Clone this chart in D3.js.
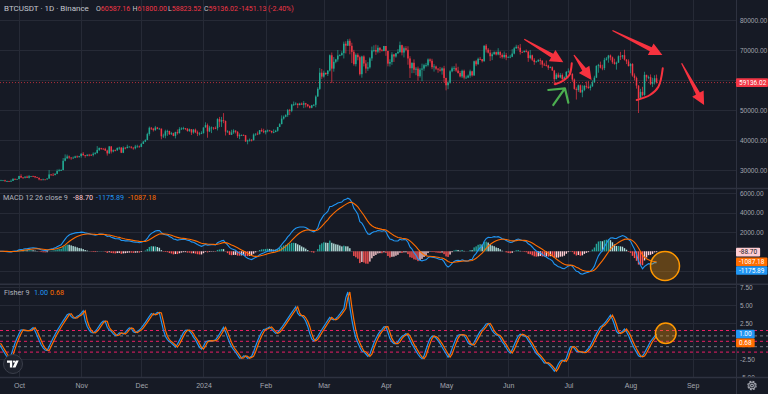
<!DOCTYPE html>
<html>
<head>
<meta charset="utf-8">
<script src="https://cdn.jsdelivr.net/npm/d3@7"></script>
<style>
  html, body { margin: 0; padding: 0; background: #161a25; }
  svg { display: block; font-family: Roboto, "Liberation Sans", sans-serif; }
</style>
</head>
<body>
<div id="chart"></div>
<script>
// ---- data: BTCUSDT daily candles, 2023-09-21 .. 2024-08-14 (open = previous close) ----
const firstDay = "2023-09-21";
const firstOpen = 27130;

const closes = [
  26570,26580,26580,26250,26300,26220,26370,27020,26910,26970, // Sep
  27990,27500,27430,27790,27410,27930,27960,27920,27590,27390,26870,26760,26860,26850,27150,28520,28410,28330,28720,29670,29920,30000,33070,33900,34500,34160,33910,34090,34530,34490,34650, // Oct
  35420,34940,34730,35080,35050,35040,35420,35630,36700,37320,37130,37070,36490,35540,37870,36160,36600,36570,37360,37450,35750,37410,37290,37720,37790,37450,37240,37820,37850,37710, // Nov
  38690,39460,39970,41980,44080,43770,43290,44170,43720,43790,41240,41450,42890,43020,41940,42260,41370,42660,42270,43660,43860,43990,43740,43010,43580,42510,43440,42580,42070,42140,42280, // Dec
  44180,44950,42850,44150,44160,43970,43930,46970,46110,46630,46340,42780,42840,41730,42510,43150,42740,41260,41620,41660,41570,39510,39850,40070,39930,41820,42120,42030,43300,42940,42580, // Jan
  43080,43190,43000,42580,42660,43090,44340,45290,47130,47750,48290,49960,49700,51800,51910,52130,51650,52140,51780,52260,51850,51300,50740,51570,51730,54480,57040,62430,61130, // Feb
  62390,61990,63130,68250,63790,66070,66850,68170,68310,68960,72080,71450,73070,71390,69400,65300,68390,67600,61940,67840,65500,63800,64220,67210,69880,69990,69450,70740,69890,69650,71330, // Mar
  69700,65460,65980,68510,67840,68900,69360,71620,69150,70590,70060,67190,63920,65740,63420,63790,61280,63470,63820,64940,64940,66840,66410,64280,64500,63770,63460,63120,63870,60670, // Apr
  58250,59120,62890,63890,64030,63160,62330,61190,63070,60790,60800,61450,62900,61550,66250,65230,67050,66940,66280,71450,70140,69120,67930,68550,69290,68510,69390,68370,67630,68350,67490, // May
  67710,67750,68800,70570,71080,70760,69340,69310,69650,69510,67320,68240,66760,66010,66190,66640,66490,65150,64960,64830,64100,64260,63160,60280,61800,60860,61670,60320,60890,62680, // Jun
  62850,62030,60150,57040,56640,58230,55850,56700,58040,57720,57340,57890,59200,60790,64720,65040,64090,63970,66710,67150,68160,67540,65930,65370,65780,67900,67810,68260,66780,66190,64620, // Jul
  65350,61500,60680,58120,54020,56040,55030,61710,60880,60940,58710,59350,60587.16,59136.02 // Aug
];

const highs = [
  27150,26740,26640,26740,26430,26390,26820,27300,27230,27090,
  28060,28580,27670,27830,28120,28290,28000,28110,27990,27740,27480,26940,27100,26990,27290,30000,28620,28980,28920,30200,30380,30230,34000,35200,35130,34820,34240,34480,34770,34850,34720,
  35580,35980,34940,35260,35380,35290,35890,35980,37970,37530,37410,37230,37420,36770,37980,37930,36850,36850,37500,37750,37650,37880,37650,38420,37890,37840,37560,38380,38430,38150,
  38950,39680,40250,42420,44490,44300,44050,44700,44360,44050,43800,42100,43430,43420,43090,42700,42430,42770,43500,44280,44240,44400,44020,43950,43800,43600,43680,43800,43120,42600,42900,
  44200,45900,45500,44730,44500,44230,44500,47250,47700,47700,48970,46500,43260,43080,43400,43580,43200,42930,42200,41870,41880,41670,40130,40500,40280,42200,42200,42840,43300,43880,43750,
  43290,43490,43380,43120,43540,43400,44380,45600,48200,48170,48590,50340,50370,52040,52820,52570,52180,52400,52490,52980,52370,52000,51550,51700,51960,54900,57580,64000,63680,
  63110,62430,63230,68500,69170,67650,67050,69990,68580,69600,72800,72920,73650,73780,72420,70050,68880,68920,68100,68100,68240,66650,65970,67620,71150,71560,71770,71550,70920,70330,71370,
  71340,69700,66900,69290,68720,69000,70330,72800,71760,71170,71280,71230,67930,65830,66870,64360,64480,64000,65450,65400,65700,67200,67200,67070,65300,64800,63950,64360,64230,64730,
  60780,59600,63300,64500,64650,65500,64420,62990,63450,63470,61500,61820,63450,63100,66450,66700,67450,67700,67000,71510,71980,70670,70080,69220,69560,69510,70600,69560,68900,69500,69050,
  67860,68410,70290,71060,71760,71650,71990,69570,69860,70180,69560,69990,68450,67300,66400,66960,67250,66500,65730,66480,65070,64530,64520,63370,62360,62480,62290,62200,61200,63000,
  63860,63300,62280,60500,57550,58480,58480,58240,58300,59470,59650,58500,59850,61420,64900,65390,66130,65100,67400,67640,68370,68480,67800,67100,66150,68200,69400,68320,70080,66970,66860,
  65600,65590,62200,61120,58300,57050,57730,62750,61760,61470,61860,60730,61580,61800
];

const lows = [
  26380,26480,26500,26130,25990,26090,26110,26340,26670,26890,
  26940,27330,27160,27220,27350,27180,27840,27700,27260,27300,26560,26560,26700,26810,26800,27110,28110,28180,28180,28600,29470,29700,29880,32880,33700,33740,33390,33870,33940,34050,34080,
  34100,34750,34100,34580,34530,34740,34530,35120,35540,36320,36720,36750,36340,34800,35360,35500,35880,36200,36380,36720,35630,35620,36870,37250,37600,37150,36750,36870,37500,37500,
  37620,38650,39280,39970,41420,43340,42820,43080,43580,43560,40220,40680,40560,41400,41660,41680,41250,40530,41800,42180,43330,43420,43300,42760,42720,41680,42100,42300,41300,41520,41960,
  42180,44150,40750,42630,42300,43400,43600,43180,44300,44350,45600,41500,42430,41720,41700,42050,42200,40680,40280,41450,41500,39430,38560,39490,39500,39820,41390,41620,41800,42680,42270,
  41880,42570,42880,42220,42260,42580,42790,44330,45240,46800,47560,47700,48300,49270,51320,51610,50630,51540,51700,50620,50860,50910,50520,50580,51280,50900,54450,56690,60360,
  60780,61660,61320,62810,59000,62780,65580,66100,67900,68050,67180,68850,71330,68560,65630,64780,64530,66560,61500,60770,64530,62260,63040,63800,66390,69280,68380,68900,69080,69530,69580,
  68060,64550,64490,65060,66010,67440,68700,69040,68200,67520,69570,65090,60660,62260,62300,61600,59770,60800,59600,63080,64240,64500,65800,63600,62800,63300,62400,62800,61790,59190,
  56550,56940,58800,62580,62960,62700,62130,60880,60650,60190,60450,60620,60760,61150,61330,64600,65120,66650,65830,66060,69160,68830,66300,66630,68520,68180,68230,67280,67130,67130,66600,
  67390,67260,67610,68550,70380,70120,68500,69220,69130,69200,66050,66900,66300,65060,65870,66020,65080,64060,64680,64500,63380,63940,63080,58400,60240,60710,60580,60000,60300,60700,
  62500,61750,59400,56770,53480,56020,55790,54260,56300,57160,57050,56520,57730,59200,60640,62430,63850,63240,63300,66470,65770,66550,65400,65100,63450,65750,66650,67070,66500,65300,64530,
  62250,61100,59850,57120,49000,53940,54560,54730,59570,60260,58290,57640,58500,58823.52
];

// values printed in the legends / last-value boxes
const symbolTitle = "BTCUSDT · 1D · Binance";
const ohlcLetters = ["O", "H", "L", "C"];
const ohlcValues = ["60587.16", "61800.00", "58823.52", "59136.02"];
const changeText = "-1451.13 (-2.40%)";
const macdTitle = "MACD 12 26 close 9";
const macdLast = [-88.70, -1175.89, -1087.18];   // histogram, MACD, signal
const fisherTitle = "Fisher 9";
const fisherLast = [1.00, 0.68];                 // fisher, trigger

const priceTicks = [30000, 40000, 50000, 60000, 70000, 80000];
const macdTicks = [-2000, 0, 2000, 4000, 6000];
const fisherTicks = [-5, -2.5, 0, 2.5, 5, 7.5];
const fisherLevels = [1.5, 0.75, 0, -0.75, -1.5];

// drawings on the chart, as [time, value]
const redArrows = [
  [["2024-06-09T00:00:00Z", 73570], ["2024-06-28T12:00:00Z", 65900]],
  [["2024-07-03T19:00:00Z", 68330], ["2024-07-12T14:00:00Z", 60000]],
  [["2024-07-23T00:00:00Z", 76500], ["2024-08-16T22:00:00Z", 68330]],
  [["2024-08-26T12:00:00Z", 65570], ["2024-09-06T17:00:00Z", 51670]]
];
const redArcs = [
  [["2024-06-24T08:00:00Z", 58570], ["2024-06-28T12:00:00Z", 59770], ["2024-07-01T12:00:00Z", 61670], ["2024-07-02T17:00:00Z", 65570]],
  [["2024-08-04T02:00:00Z", 53330], ["2024-08-10T17:00:00Z", 55000], ["2024-08-14T22:00:00Z", 57770], ["2024-08-17T02:00:00Z", 63900]]
];
const greenArrow = {
  tail: ["2024-06-23T12:00:00Z", 51670],
  tip: ["2024-06-29T07:00:00Z", 57230],
  wings: [["2024-06-21T00:00:00Z", 56670], ["2024-07-01T00:00:00Z", 52430]]
};
const macdCircle = ["2024-08-18T05:00:00Z", -1523];
const fisherCircle = ["2024-08-18T14:00:00Z", 1.11];

// ---- layout ----
const W = 768, H = 394, plotW = 736;
const pane = {
  main: [0, 188],
  macd: [189, 284],
  fisher: [285, 377]
};
const bg = "#161a25", gridCol = "#262a36", textCol = "#a3a6af";
const upCol = "#22ab94", downCol = "#f23645";
const blue = "#2196f3", orange = "#ff6d00";

const svg = d3.select("#chart").append("svg")
  .attr("width", W).attr("height", H);
svg.append("rect").attr("width", W).attr("height", H).attr("fill", bg);

const defs = svg.append("defs");
Object.entries(pane).forEach(([k, [y0, y1]]) => {
  defs.append("clipPath").attr("id", "clip-" + k)
    .append("rect").attr("x", 0).attr("y", y0).attr("width", plotW).attr("height", y1 - y0);
});

const x = d3.scaleUtc()
  .domain([new Date(Date.UTC(2023, 8, 21, 12)), new Date(Date.UTC(2024, 8, 22, 15))])
  .range([0, plotW]);
const yPrice = d3.scaleLinear().domain([30000, 80000]).range([170, 20]);
const yMacd = d3.scaleLinear().domain([-2000, 6000]).range([270.6, 193.4]);
const yFish = d3.scaleLinear().domain([-5, 7.5]).range([377.3, 287.3]);

const start = d3.utcParse("%Y-%m-%d")(firstDay);
const candles = closes.map((c, i) => ({
  date: d3.utcDay.offset(start, i),
  open: i === 0 ? firstOpen : closes[i - 1],
  high: highs[i],
  low: lows[i],
  close: c
}));
if (highs.length !== closes.length || lows.length !== closes.length) {
  console.warn("length mismatch", closes.length, highs.length, lows.length);
}

// ---- indicators from the candles ----
function ema(values, len) {
  const k = 2 / (len + 1);
  let prev;
  return values.map((v, i) => (prev = i === 0 ? v : v * k + prev * (1 - k)));
}
const emaFast = ema(closes, 12), emaSlow = ema(closes, 26);
const macdLine = emaFast.map((f, i) => f - emaSlow[i]);
const signalLine = ema(macdLine, 9);
const histLine = macdLine.map((m, i) => m - signalLine[i]);

function fisherTransform(len) {
  const hl2 = candles.map(d => (d.high + d.low) / 2);
  let value = 0, fish = 0;
  return hl2.map((v, i) => {
    const win = hl2.slice(Math.max(0, i - len + 1), i + 1);
    const hi = d3.max(win), lo = d3.min(win);
    value = 0.66 * ((v - lo) / Math.max(hi - lo, 0.001) - 0.5) + 0.67 * value;
    value = value > 0.99 ? 0.999 : value < -0.99 ? -0.999 : value;
    fish = 0.5 * Math.log((1 + value) / Math.max(1 - value, 0.001)) + 0.5 * fish;
    return fish;
  });
}
const fisher = fisherTransform(9);
const trigger = fisher.map((f, i) => (i === 0 ? f : fisher[i - 1]));

// ---- grid ----
const grid = svg.append("g").attr("stroke", gridCol).attr("stroke-width", 1);
const months = x.ticks(d3.utcMonth.every(1));
grid.selectAll(".vgrid").data(months).join("line")
  .attr("x1", d => Math.round(x(d)) + 0.5).attr("x2", d => Math.round(x(d)) + 0.5)
  .attr("y1", 0).attr("y2", pane.fisher[1]);
grid.selectAll(".pgrid").data(priceTicks).join("line")
  .attr("x1", 0).attr("x2", plotW)
  .attr("y1", d => Math.round(yPrice(d)) + 0.5).attr("y2", d => Math.round(yPrice(d)) + 0.5);
grid.selectAll(".mgrid").data(macdTicks).join("line")
  .attr("x1", 0).attr("x2", plotW)
  .attr("y1", d => Math.round(yMacd(d)) + 0.5).attr("y2", d => Math.round(yMacd(d)) + 0.5);
grid.selectAll(".fgrid").data(fisherTicks.filter(d => d !== 0)).join("line")
  .attr("x1", 0).attr("x2", plotW)
  .attr("y1", d => Math.round(yFish(d)) + 0.5).attr("y2", d => Math.round(yFish(d)) + 0.5);

// pane separators
svg.append("g").attr("stroke", "#2e3240").attr("stroke-width", 1.5)
  .selectAll("line").data([pane.main[1] + 0.5, pane.macd[1] + 0.3]).join("line")
  .attr("x1", 0).attr("x2", W).attr("y1", d => d).attr("y2", d => d);

// ---- main pane ----
const main = svg.append("g").attr("clip-path", "url(#clip-main)");
const last = candles[candles.length - 1];
main.append("line")
  .attr("x1", 0).attr("x2", plotW)
  .attr("y1", yPrice(last.close)).attr("y2", yPrice(last.close))
  .attr("stroke", downCol).attr("stroke-opacity", 0.7)
  .attr("stroke-dasharray", "1,2");

const candleG = main.append("g");
candleG.selectAll(".wick").data(candles).join("line")
  .attr("x1", d => x(d.date)).attr("x2", d => x(d.date))
  .attr("y1", d => yPrice(d.high)).attr("y2", d => yPrice(d.low))
  .attr("stroke", d => d.close >= d.open ? upCol : downCol)
  .attr("stroke-width", 0.7);
candleG.selectAll(".body").data(candles).join("rect")
  .attr("x", d => x(d.date) - 0.75)
  .attr("width", 1.5)
  .attr("y", d => yPrice(Math.max(d.open, d.close)))
  .attr("height", d => Math.max(0.8, Math.abs(yPrice(d.open) - yPrice(d.close))))
  .attr("fill", d => d.close >= d.open ? upCol : downCol);

// drawings
const pt = p => [x(d3.isoParse(p[0])), yPrice(p[1])];
const drawings = main.append("g");
redArrows.forEach(([a, b]) => {
  const p0 = pt(a), p1 = pt(b);
  const dx = p1[0] - p0[0], dy = p1[1] - p0[1], len = Math.hypot(dx, dy);
  const ux = dx / len, uy = dy / len, nx = -uy, ny = ux;
  const hl = 13, hw = 6.5, w0 = 0.6, w1 = 2.2;
  const bx = p1[0] - ux * hl, by = p1[1] - uy * hl;
  const poly = [
    [p0[0] + nx * w0, p0[1] + ny * w0],
    [bx + nx * w1, by + ny * w1],
    [bx + nx * hw, by + ny * hw],
    p1,
    [bx - nx * hw, by - ny * hw],
    [bx - nx * w1, by - ny * w1],
    [p0[0] - nx * w0, p0[1] - ny * w0]
  ];
  drawings.append("path")
    .attr("d", "M" + poly.map(p => p.join(",")).join("L") + "Z")
    .attr("fill", "#f7323f");
});
const arcLine = d3.line().curve(d3.curveCatmullRom);
redArcs.forEach(pts => {
  drawings.append("path")
    .attr("d", arcLine(pts.map(pt)))
    .attr("fill", "none").attr("stroke", "#f7323f")
    .attr("stroke-width", 2).attr("stroke-linecap", "round");
});
drawings.append("path")
  .attr("d", d3.line()([pt(greenArrow.tail), pt(greenArrow.tip)]) +
             d3.line()([pt(greenArrow.wings[0]), pt(greenArrow.tip), pt(greenArrow.wings[1])]))
  .attr("fill", "none").attr("stroke", "#4caf50")
  .attr("stroke-width", 2.2).attr("stroke-linecap", "round").attr("stroke-linejoin", "round");

// ---- MACD pane ----
const macdG = svg.append("g").attr("clip-path", "url(#clip-macd)");
macdG.selectAll(".hist").data(candles).join("rect")
  .attr("x", d => x(d.date) - 0.7)
  .attr("width", 1.4)
  .attr("y", (d, i) => Math.min(yMacd(0), yMacd(histLine[i])))
  .attr("height", (d, i) => Math.abs(yMacd(histLine[i]) - yMacd(0)))
  .attr("fill", (d, i) => {
    const h = histLine[i], p = i > 0 ? histLine[i - 1] : h;
    if (h >= 0) return p < h ? "#26a69a" : "#b2dfdb";
    return p < h ? "#ffcdd2" : "#ff5252";
  });
const macdPath = d3.line().x(d => x(d.date));
macdG.append("path")
  .attr("d", macdPath.y((d, i) => yMacd(macdLine[i]))(candles))
  .attr("fill", "none").attr("stroke", blue).attr("stroke-width", 1.1);
macdG.append("path")
  .attr("d", macdPath.y((d, i) => yMacd(signalLine[i]))(candles))
  .attr("fill", "none").attr("stroke", orange).attr("stroke-width", 1.1);
macdG.append("circle")
  .attr("cx", x(d3.isoParse(macdCircle[0]))).attr("cy", yMacd(macdCircle[1]))
  .attr("r", 14.5)
  .attr("fill", "#ff9800").attr("fill-opacity", 0.32)
  .attr("stroke", "#ff9800").attr("stroke-width", 1.5);

// ---- Fisher pane ----
const fishG = svg.append("g").attr("clip-path", "url(#clip-fisher)");
fishG.selectAll(".lvl").data(fisherLevels).join("line")
  .attr("x1", 0).attr("x2", W)
  .attr("y1", d => yFish(d)).attr("y2", d => yFish(d))
  .attr("stroke", d => Math.abs(d) === 0.75 ? "#787b86" : "#e91e63")
  .attr("stroke-width", 1).attr("stroke-dasharray", "3,3");
const fishPath = d3.line().x(d => x(d.date));
fishG.append("path")
  .attr("d", fishPath.y((d, i) => yFish(fisher[i]))(candles))
  .attr("fill", "none").attr("stroke", blue).attr("stroke-width", 1.2);
fishG.append("path")
  .attr("d", fishPath.y((d, i) => yFish(trigger[i]))(candles))
  .attr("fill", "none").attr("stroke", orange).attr("stroke-width", 1.2);
fishG.append("circle")
  .attr("cx", x(d3.isoParse(fisherCircle[0]))).attr("cy", yFish(fisherCircle[1]))
  .attr("r", 10.3)
  .attr("fill", "#ff9800").attr("fill-opacity", 0.32)
  .attr("stroke", "#ff9800").attr("stroke-width", 1.5);
// fisher levels continue over the scale strip
svg.append("g").selectAll("line").data(fisherLevels).join("line")
  .attr("x1", plotW).attr("x2", W)
  .attr("y1", d => yFish(d)).attr("y2", d => yFish(d))
  .attr("stroke", d => Math.abs(d) === 0.75 ? "#787b86" : "#e91e63")
  .attr("stroke-dasharray", "3,3");

// ---- price scales ----
function rightAxis(scale, ticks) {
  const g = svg.append("g").attr("transform", `translate(${plotW},0)`)
    .call(d3.axisRight(scale).tickValues(ticks).tickSize(0).tickPadding(4)
      .tickFormat(d => d.toFixed(2)));
  g.select(".domain").remove();
  g.selectAll("text").attr("fill", textCol).attr("font-size", 6.5).attr("font-family", null);
  return g;
}
rightAxis(yPrice, priceTicks.filter(d => d !== 60000));
rightAxis(yMacd, macdTicks.filter(d => d > 0));
rightAxis(yFish, fisherTicks.filter(d => d !== 0));

// ---- time axis (drawn over the bottom of the fisher pane) ----
svg.append("rect").attr("x", 0).attr("y", pane.fisher[1] + 1).attr("width", W).attr("height", H - pane.fisher[1]).attr("fill", bg);
svg.append("line").attr("x1", 0).attr("x2", W)
  .attr("y1", pane.fisher[1] + 0.5).attr("y2", pane.fisher[1] + 0.5)
  .attr("stroke", "#2e3240").attr("stroke-width", 1.5);
const xAxis = svg.append("g")
  .attr("transform", `translate(0,${pane.fisher[1] + 3})`)
  .call(d3.axisBottom(x).tickValues(months).tickSize(0)
    .tickFormat(d => d.getUTCMonth() === 0 ? d3.utcFormat("%Y")(d) : d3.utcFormat("%b")(d)));
xAxis.select(".domain").remove();
xAxis.selectAll("text").attr("fill", textCol).attr("font-size", 7).attr("font-family", null);
svg.append("line").attr("x1", plotW + 0.5).attr("x2", plotW + 0.5).attr("y1", 0).attr("y2", H)
  .attr("stroke", "#2e3240").attr("stroke-width", 1);

// last-value boxes, stacked so they do not overlap
const boxH = 8.7;
function valueBoxes(items) {
  items.sort((a, b) => a.y - b.y);
  let bottom = -Infinity;
  items.forEach(it => {
    it.cy = Math.max(it.y, bottom + boxH / 2);
    bottom = it.cy + boxH / 2;
    const g = svg.append("g");
    const r = g.append("rect").attr("x", plotW).attr("y", it.cy - boxH / 2)
      .attr("height", boxH).attr("rx", 1).attr("fill", it.bg);
    const t = g.append("text").attr("x", plotW + 3).attr("y", it.cy)
      .attr("dy", "0.35em").attr("font-size", 6.5).attr("fill", it.fg).text(it.text);
    r.attr("width", Math.min(W - plotW, t.node().getComputedTextLength() + 6));
  });
}
valueBoxes([{ y: yPrice(last.close), text: ohlcValues[3], bg: downCol, fg: "#ffffff" }]);
valueBoxes([
  { y: yMacd(macdLast[0]), text: macdLast[0].toFixed(2), bg: "#ffcdd2", fg: "#131722" },
  { y: yMacd(macdLast[1]), text: macdLast[1].toFixed(2), bg: blue, fg: "#ffffff" },
  { y: yMacd(macdLast[2]), text: macdLast[2].toFixed(2), bg: orange, fg: "#ffffff" }
]);
valueBoxes([
  { y: yFish(fisherLast[0]), text: fisherLast[0].toFixed(2), bg: blue, fg: "#ffffff" },
  { y: yFish(fisherLast[1]) + 0.01, text: fisherLast[1].toFixed(2), bg: orange, fg: "#ffffff" }
]);

// ---- legends ----
const legend = svg.append("g").attr("font-size", 7);
legend.append("text").attr("x", 4).attr("y", 11).attr("font-size", 8)
  .attr("fill", "#c3c6ce").text(symbolTitle);
const ohlcX = [96, 132.5, 168, 204];
ohlcLetters.forEach((l, i) => {
  const t = legend.append("text").attr("x", ohlcX[i]).attr("y", 11);
  t.append("tspan").attr("fill", "#c3c6ce").text(l);
  t.append("tspan").attr("fill", downCol).text(ohlcValues[i]);
});
legend.append("text").attr("x", 239).attr("y", 11).attr("fill", downCol).text(changeText);

const macdLeg = legend.append("text").attr("x", 3).attr("y", 200).attr("font-size", 7.2);
macdLeg.append("tspan").attr("fill", "#b2b5be").text(macdTitle);
macdLeg.append("tspan").attr("x", 73).attr("fill", "#ffcdd2").text(macdLast[0].toFixed(2));
macdLeg.append("tspan").attr("x", 96).attr("fill", blue).text(macdLast[1].toFixed(2));
macdLeg.append("tspan").attr("x", 128).attr("fill", orange).text(macdLast[2].toFixed(2));

const fishLeg = legend.append("text").attr("x", 4).attr("y", 294.5).attr("font-size", 7.2);
fishLeg.append("tspan").attr("fill", "#b2b5be").text(fisherTitle);
fishLeg.append("tspan").attr("x", 34).attr("fill", blue).text(fisherLast[0].toFixed(2));
fishLeg.append("tspan").attr("x", 50).attr("fill", orange).text(fisherLast[1].toFixed(2));

// ---- logo and settings icon ----
const logo = svg.append("g").attr("transform", "translate(13,364)");
logo.append("circle").attr("r", 9.5).attr("fill", "#1e222d").attr("stroke", "#3a3e4a");
logo.append("path").attr("fill", "#ffffff")
  .attr("d", "M-6,-3.5h5.2v7h-2.3v-4.8h-2.9z M2.8,-3.5h2.9l-3.2,7h-2.9z");
logo.append("circle").attr("cx", 1).attr("cy", -2.3).attr("r", 1.1).attr("fill", "#ffffff");
const gear = svg.append("g").attr("transform", "translate(752,385.5)")
  .attr("fill", "none").attr("stroke", textCol).attr("stroke-width", 1.1);
gear.append("circle").attr("r", 4.2).attr("stroke-dasharray", "2,1.3");
gear.append("circle").attr("r", 3.2);
gear.append("circle").attr("r", 1.4);
</script>
</body>
</html>
